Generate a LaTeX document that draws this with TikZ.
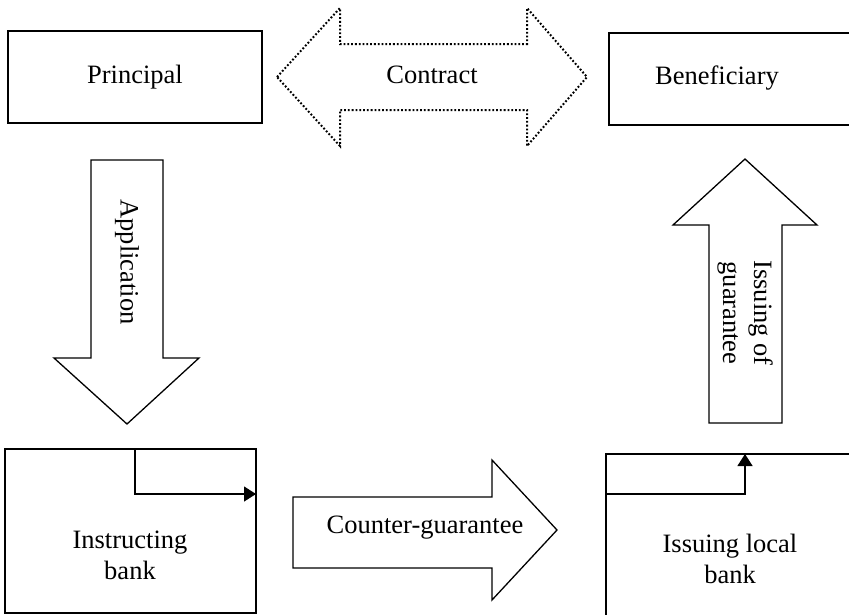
\documentclass[tikz,border=0pt]{standalone}
\usepackage{fontspec}
\setmainfont{Liberation Serif}
\usetikzlibrary{arrows.meta}
\begin{document}
\begin{tikzpicture}[x=1pt,y=-1pt,
  line width=1.3pt,
  boxtext/.style={font=\fontsize{26.5}{31}\selectfont, align=center, inner sep=0pt},
  bigarrow/.style={draw=black, line join=miter, fill=white},
  dotarrow/.style={draw=black, line width=2pt, dash pattern=on 1.8pt off 2pt},
  flowline/.style={draw=black, line width=1.3pt, -{Triangle[length=12pt,width=15pt]}}
]
\useasboundingbox (0,0) rectangle (849,614);
% boxes
\draw (8,31) rectangle (262,123);
\draw (609,33) rectangle (852,125);
\draw (5,449) rectangle (256,613);
\draw (606,454) rectangle (853,620);
% contract arrow (dotted)
\draw[dotarrow] (277,77) -- (340,8) -- (340,44) -- (527,44) -- (527,8) -- (587,77) -- (527,146) -- (527,110) -- (340,110) -- (340,146) -- cycle;
% application arrow
\draw[bigarrow] (91,160) -- (163,160) -- (163,358) -- (199,358) -- (127,424) -- (54,358) -- (91,358) -- cycle;
% issuing of guarantee arrow
\draw[bigarrow] (709,423) -- (709,225) -- (673,225) -- (745,159) -- (817,225) -- (782,225) -- (782,423) -- cycle;
% counter-guarantee arrow
\draw[bigarrow] (293,497) -- (492,497) -- (492,460) -- (557,530) -- (492,600) -- (492,568) -- (293,568) -- cycle;
% texts
\node[boxtext] (principal) at (135,77) {Principal};
\node[boxtext] (beneficiary) at (717,78) {Beneficiary};
\node[boxtext] (contract) at (432,75) {Contract};
\node[boxtext, rotate=-90] (application) at (127,262) {Application};
\node[boxtext, rotate=-90] (issuing) at (745,313) {Issuing of\\guarantee};
\node[boxtext] (counter) at (425,528) {Counter-guarantee};
\node[boxtext] (instructing) at (130,555) {Instructing\\bank};
\node[boxtext] (local) at (730,559) {Issuing local\\bank};
% inner flow lines
\coordinate (ia) at (135,449);
\coordinate (ib) at (135,494);
\coordinate (ic) at (256,494);
\draw[flowline] (ia) -- (ib) -- (ic);
\coordinate (la) at (606,494);
\coordinate (lb) at (745,494);
\coordinate (lc) at (745,454);
\draw[flowline] (la) -- (lb) -- (lc);
\end{tikzpicture}
\end{document}
